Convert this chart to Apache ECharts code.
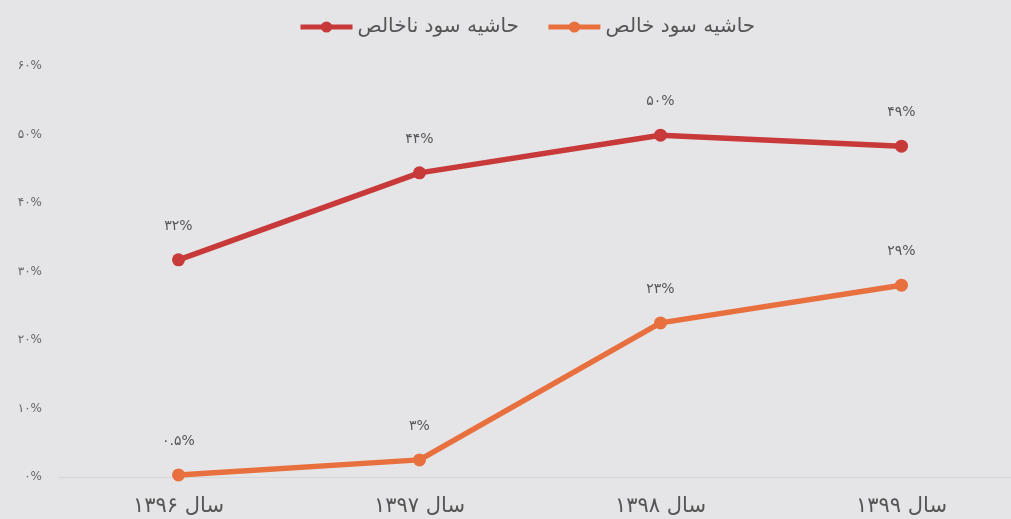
<!DOCTYPE html>
<html>
<head>
<meta charset="utf-8">
<script src="https://cdn.jsdelivr.net/npm/echarts@6/dist/echarts.min.js"></script>
<style>
  html, body { margin: 0; padding: 0; background: #e5e5e7; }
  #main { width: 1011px; height: 519px; }
</style>
</head>
<body>
<div id="main"></div>
<script>
var years = ['سال ۱۳۹۶', 'سال ۱۳۹۷', 'سال ۱۳۹۸', 'سال ۱۳۹۹'];
var grossName = 'حاشیه سود ناخالص';
var netName = 'حاشیه سود خالص';
// مقادیر خوانده شده از نمودار
var grossMargin = [31.7, 44.4, 49.9, 48.3];
var netMargin = [0.3, 2.5, 22.5, 28];
// برچسب‌های نوشته شده روی نقاط
var grossLabels = ['۳۲%', '۴۴%', '۵۰%', '۴۹%'];
var netLabels = ['۰.۵%', '۳%', '۲۳%', '۲۹%'];

// ارقام فارسی
function toFa(v) {
    var d = '۰۱۲۳۴۵۶۷۸۹';
    return String(v).replace(/[0-9]/g, function (c) { return d[+c]; });
}

function labelStyle(texts) {
    return {
        show: true,
        position: 'top',
        distance: 20,
        color: '#555',
        fontSize: 14,
        fontFamily: 'DejaVu Sans',
        formatter: function (p) { return texts[p.dataIndex]; }
    };
}

var myChart = echarts.init(document.getElementById('main'));
var option = {
    backgroundColor: '#e5e5e7',
    textStyle: { fontFamily: 'DejaVu Sans' },
    legend: {
        top: 12,
        left: 293,
        itemWidth: 52,
        itemHeight: 14,
        itemGap: 27,
        lineStyle: { width: 5 },
        textStyle: { color: '#555', fontSize: 20, fontFamily: 'DejaVu Sans' },
        data: [grossName, netName]
    },
    grid: {
        top: 66,
        left: 58,
        right: -11,
        bottom: 42,
        outerBoundsMode: 'none'
    },
    xAxis: {
        type: 'category',
        boundaryGap: true,
        data: years,
        axisLine: { show: true, lineStyle: { color: '#d6d6d8', width: 1 } },
        axisTick: { show: false },
        axisLabel: { color: '#555', fontSize: 21, margin: 19, fontFamily: 'DejaVu Sans' }
    },
    yAxis: {
        type: 'value',
        min: 0,
        max: 60,
        interval: 10,
        axisLine: { show: false },
        axisTick: { show: false },
        splitLine: { show: false },
        axisLabel: {
            color: '#666',
            fontSize: 12,
            margin: 16,
            fontFamily: 'DejaVu Sans',
            formatter: function (v) { return toFa(v) + '%'; }
        }
    },
    series: [{
        name: grossName,
        type: 'line',
        data: grossMargin,
        symbol: 'circle',
        symbolSize: 13,
        color: '#c8393a',
        lineStyle: { width: 5.5, color: '#c8393a' },
        label: labelStyle(grossLabels)
    }, {
        name: netName,
        type: 'line',
        data: netMargin,
        symbol: 'circle',
        symbolSize: 13,
        color: '#e8703f',
        lineStyle: { width: 5.5, color: '#e8703f' },
        label: labelStyle(netLabels)
    }]
};
myChart.setOption(option);
</script>
</body>
</html>
